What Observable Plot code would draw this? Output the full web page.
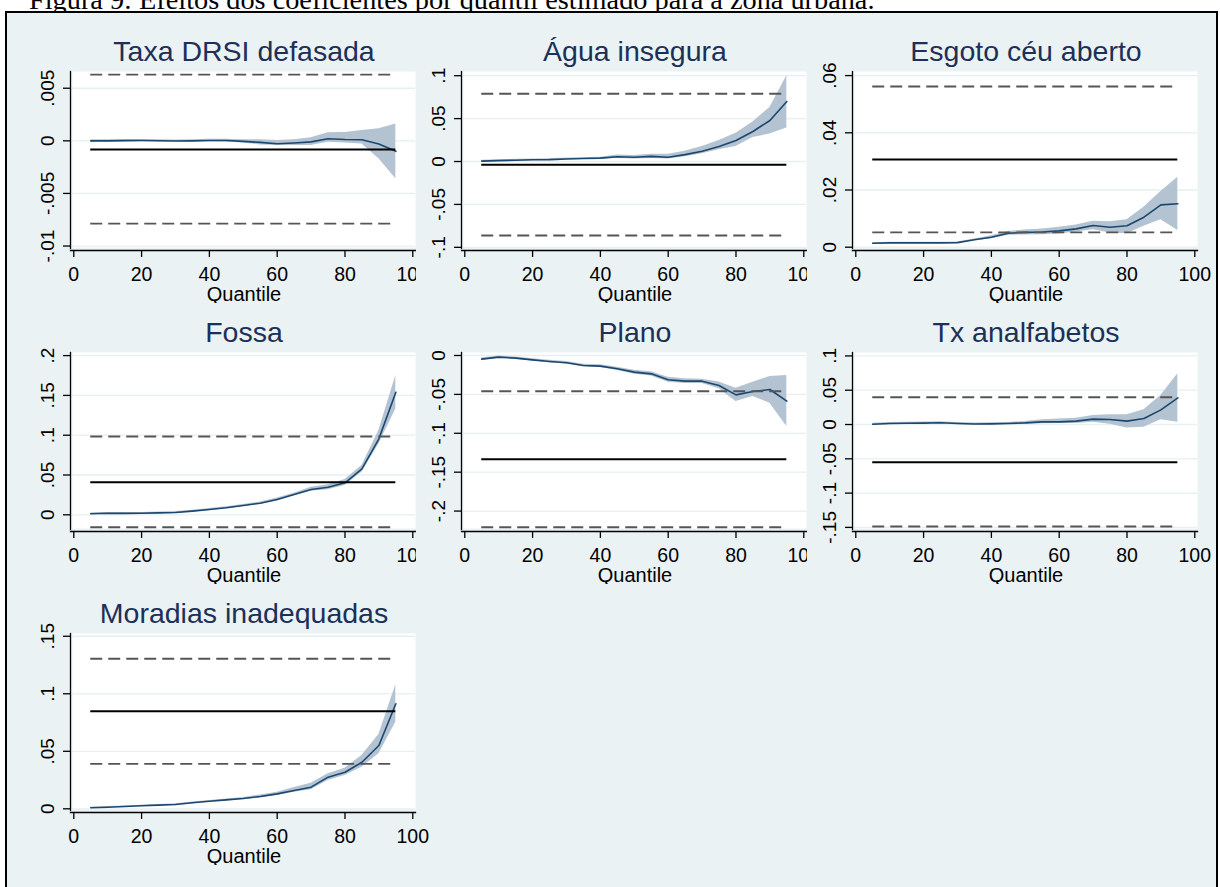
<!DOCTYPE html>
<html>
<head>
<meta charset="utf-8">
<script src="https://cdn.jsdelivr.net/npm/d3@7"></script>
<script src="https://cdn.jsdelivr.net/npm/@observablehq/plot@0.6"></script>
<style>
  html, body { margin: 0; padding: 0; background: #ffffff; }
  body { width: 1220px; height: 887px; overflow: hidden; position: relative; font-family: "Liberation Sans", Arial, sans-serif; }
  #caption { position: absolute; left: 29px; top: -14.5px; font-family: "Liberation Serif", "Times New Roman", serif; font-size: 28.3px; line-height: 28.3px; white-space: nowrap; color: #000; z-index: 0; }
  #frame { position: absolute; left: 5px; top: 11px; width: 1213px; height: 900px; border: 2px solid #000; background: #eaf2f3; box-sizing: border-box; z-index: 1; }
  .panel { position: absolute; z-index: 2; }
</style>
</head>
<body>
<div id="caption">Figura 9: Efeitos dos coeficientes por quantil estimado para a zona urbana.</div>
<div id="frame"></div>
<script>
// ---------------- data ----------------
const quantiles = [5, 10, 15, 20, 25, 30, 35, 40, 45, 50, 55, 60, 65, 70, 75, 80, 85, 90, 95];
const xTicks = [0, 20, 40, 60, 80, 100];
const titles = ["Taxa DRSI defasada", "Água insegura", "Esgoto céu aberto", "Fossa", "Plano", "Tx analfabetos", "Moradias inadequadas"];
const xLabel = "Quantile";

// Taxa DRSI defasada
const taxaB  = [0.0000, 0.0000, 0.00002, 0.00003, 0.00001, -0.00002, 0.0000, 0.00003, 0.00003, -0.00005, -0.00015, -0.00028, -0.0002, -0.0001, 0.0002, 0.00012, 0.0001, -0.0003, -0.001];
const taxaLo = [-0.0001, -0.0001, -0.00008, -0.00007, -0.00009, -0.00012, -0.0001, -0.00008, -0.0001, -0.0002, -0.0004, -0.00045, -0.00045, -0.00045, -0.00013, -0.0002, -0.0003, -0.0017, -0.0036];
const taxaHi = [0.0001, 0.0001, 0.00012, 0.00013, 0.00011, 0.00008, 0.0001, 0.00014, 0.00016, 0.0001, 0.0001, 0.00002, 0.0001, 0.0003, 0.00076, 0.0008, 0.00098, 0.00114, 0.0016];
const taxaOls = [-0.00083, -0.00787, 0.00629];
const taxaYTicks = [-0.01, -0.005, 0, 0.005];
const taxaYLabels = ["-.01", "-.005", "0", ".005"];

// Água insegura
const aguaB  = [0.0005, 0.001, 0.0015, 0.002, 0.0022, 0.003, 0.0035, 0.004, 0.0055, 0.005, 0.006, 0.005, 0.008, 0.012, 0.0175, 0.0245, 0.035, 0.0478, 0.0699];
const aguaLo = [-0.0005, 0.0, 0.0005, 0.001, 0.0012, 0.002, 0.0025, 0.003, 0.0035, 0.003, 0.0035, 0.003, 0.0055, 0.009, 0.0136, 0.0175, 0.028, 0.032, 0.039];
const aguaHi = [0.0015, 0.002, 0.0025, 0.003, 0.0032, 0.004, 0.0045, 0.005, 0.0075, 0.007, 0.0085, 0.0085, 0.012, 0.0175, 0.0245, 0.033, 0.046, 0.063, 0.100];
const aguaOls = [-0.0038, -0.0862, 0.0789];
const aguaYTicks = [-0.1, -0.05, 0, 0.05, 0.1];
const aguaYLabels = ["-.1", "-.05", "0", ".05", ".1"];

// Esgoto céu aberto
const esgotoB  = [0.0014, 0.0015, 0.0015, 0.0015, 0.0015, 0.0016, 0.0026, 0.0035, 0.0049, 0.0052, 0.0053, 0.0057, 0.0064, 0.0076, 0.0070, 0.0075, 0.0105, 0.0148, 0.0152];
const esgotoLo = [0.0012, 0.0013, 0.0013, 0.0013, 0.0013, 0.0014, 0.0023, 0.003, 0.0042, 0.0043, 0.0044, 0.0046, 0.0053, 0.0061, 0.005, 0.0047, 0.0073, 0.0096, 0.0058];
const esgotoHi = [0.0016, 0.0017, 0.0017, 0.0017, 0.0017, 0.0018, 0.0029, 0.004, 0.0055, 0.006, 0.0064, 0.007, 0.0078, 0.0091, 0.0089, 0.0096, 0.014, 0.0195, 0.0245];
const esgotoOls = [0.0307, 0.0052, 0.0562];
const esgotoYTicks = [0, 0.02, 0.04, 0.06];
const esgotoYLabels = ["0", ".02", ".04", ".06"];

// Fossa
const fossaB  = [0.0013, 0.002, 0.0018, 0.002, 0.0024, 0.0029, 0.0046, 0.0067, 0.0088, 0.0117, 0.0146, 0.0192, 0.0255, 0.0318, 0.0347, 0.0402, 0.0578, 0.0955, 0.154];
const fossaLo = [0.0003, 0.001, 0.0008, 0.001, 0.0013, 0.0018, 0.0034, 0.0055, 0.0076, 0.0104, 0.0132, 0.0175, 0.0238, 0.0297, 0.0314, 0.0368, 0.0535, 0.089, 0.133];
const fossaHi = [0.0023, 0.003, 0.0028, 0.003, 0.0035, 0.004, 0.0058, 0.0079, 0.0100, 0.0130, 0.0160, 0.021, 0.0272, 0.0347, 0.0377, 0.0443, 0.062, 0.106, 0.175];
const fossaOls = [0.041, -0.0156, 0.0984];
const fossaYTicks = [0, 0.05, 0.1, 0.15, 0.2];
const fossaYLabels = ["0", ".05", ".1", ".15", ".2"];

// Plano
const planoB  = [-0.0047, -0.0021, -0.0034, -0.0056, -0.0077, -0.0094, -0.0129, -0.0137, -0.0171, -0.0214, -0.0236, -0.0312, -0.033, -0.033, -0.0386, -0.0506, -0.0463, -0.0437, -0.0587];
const planoLo = [-0.0062, -0.0036, -0.0049, -0.0071, -0.0093, -0.011, -0.0146, -0.0155, -0.0192, -0.024, -0.0265, -0.0345, -0.036, -0.036, -0.0428, -0.0591, -0.0527, -0.0613, -0.0913];
const planoHi = [-0.0032, -0.0006, -0.0019, -0.0041, -0.0061, -0.0078, -0.0112, -0.0119, -0.015, -0.019, -0.021, -0.028, -0.030, -0.0304, -0.034, -0.042, -0.0343, -0.027, -0.0257];
const planoOls = [-0.1333, -0.2207, -0.0459];
const planoYTicks = [-0.2, -0.15, -0.1, -0.05, 0];
const planoYLabels = ["-.2", "-.15", "-.1", "-.05", "0"];

// Tx analfabetos
const analfB  = [0.0005, 0.0015, 0.0018, 0.002, 0.0025, 0.0015, 0.0008, 0.001, 0.0015, 0.0024, 0.0039, 0.0039, 0.0049, 0.0078, 0.0073, 0.0049, 0.0087, 0.0214, 0.0389];
const analfLo = [-0.001, 0.0, 0.0003, 0.0005, 0.001, 0.0, -0.0007, -0.0005, 0.0, 0.0005, 0.001, 0.0015, 0.0015, 0.0034, 0.0005, -0.0049, -0.0039, 0.0068, 0.0034];
const analfHi = [0.002, 0.003, 0.0033, 0.0035, 0.004, 0.003, 0.0023, 0.0025, 0.003, 0.0045, 0.007, 0.008, 0.009, 0.013, 0.0141, 0.0141, 0.0214, 0.0423, 0.0739];
const analfOls = [-0.055, -0.1487, 0.0398];
const analfYTicks = [-0.15, -0.1, -0.05, 0, 0.05, 0.1];
const analfYLabels = ["-.15", "-.1", "-.05", "0", ".05", ".1"];

// Moradias inadequadas
const moradB  = [0.0009, 0.0014, 0.002, 0.0026, 0.0032, 0.0037, 0.0052, 0.0066, 0.0078, 0.009, 0.0107, 0.013, 0.0159, 0.0188, 0.0275, 0.0318, 0.0405, 0.055, 0.0913];
const moradLo = [0.0004, 0.0009, 0.0015, 0.002, 0.0026, 0.0031, 0.0045, 0.0059, 0.007, 0.0082, 0.0095, 0.0115, 0.0144, 0.0165, 0.0246, 0.029, 0.0362, 0.0478, 0.0753];
const moradHi = [0.0014, 0.0019, 0.0025, 0.0032, 0.0038, 0.0043, 0.0059, 0.0073, 0.0086, 0.0098, 0.012, 0.0145, 0.0185, 0.0223, 0.0304, 0.0353, 0.0463, 0.0646, 0.1078];
const moradOls = [0.0849, 0.0391, 0.1304];
const moradYTicks = [0, 0.05, 0.1, 0.15];
const moradYLabels = ["0", ".05", ".1", ".15"];

// ---------------- layout / style ----------------
const FONT = '"Liberation Sans", Arial, sans-serif';
const NAVY = "#1a476f";
const BAND = "#b4c3d1";
const GRID = "#e6eff1";
const DASH = "#555555";
const TITLE = "#1c3058";
const colLeft = [23, 414, 805];
const rowTop = [22, 303, 584];

const panels = [
  {title: titles[0], b: taxaB,   lo: taxaLo,   hi: taxaHi,   ols: taxaOls,   ticks: taxaYTicks,   labels: taxaYLabels,   domain: [-0.01014, 0.00659], col: 0, row: 0, w: 393},
  {title: titles[1], b: aguaB,   lo: aguaLo,   hi: aguaHi,   ols: aguaOls,   ticks: aguaYTicks,   labels: aguaYLabels,   domain: [-0.1002, 0.1049],   col: 1, row: 0, w: 393},
  {title: titles[2], b: esgotoB, lo: esgotoLo, hi: esgotoHi, ols: esgotoOls, ticks: esgotoYTicks, labels: esgotoYLabels, domain: [-0.0001, 0.06143],  col: 2, row: 0, w: 411},
  {title: titles[3], b: fossaB,  lo: fossaLo,  hi: fossaHi,  ols: fossaOls,  ticks: fossaYTicks,  labels: fossaYLabels,  domain: [-0.0172, 0.2039],   col: 0, row: 1, w: 393},
  {title: titles[4], b: planoB,  lo: planoLo,  hi: planoHi,  ols: planoOls,  ticks: planoYTicks,  labels: planoYLabels,  domain: [-0.2224, 0.00386],  col: 1, row: 1, w: 393},
  {title: titles[5], b: analfB,  lo: analfLo,  hi: analfHi,  ols: analfOls,  ticks: analfYTicks,  labels: analfYLabels,  domain: [-0.1516, 0.105],    col: 2, row: 1, w: 411},
  {title: titles[6], b: moradB,  lo: moradLo,  hi: moradHi,  ols: moradOls,  ticks: moradYTicks,  labels: moradYLabels,  domain: [-0.0006, 0.1524],   col: 0, row: 2, w: 430}
];

const qmin = d3.min(quantiles), qmax = d3.max(quantiles);

for (const p of panels) {
  const data = quantiles.map((q, i) => ({q, b: p.b[i], lo: p.lo[i], hi: p.hi[i]}));
  const [olsB, olsLo, olsHi] = p.ols;
  const chart = Plot.plot({
    width: p.w,
    height: 281,
    marginLeft: 49,
    marginTop: 49,
    marginBottom: 56,
    marginRight: p.w - 49 - 343,
    style: {background: "transparent", overflow: "hidden", fontFamily: FONT, fontSize: "19px", color: "#000"},
    x: {domain: [-0.38, 100.8], label: null},
    y: {domain: p.domain, label: null},
    marks: [
      Plot.frame({fill: "white", stroke: "none"}),
      Plot.gridY(p.ticks, {stroke: GRID, strokeOpacity: 1, strokeWidth: 1.3}),
      Plot.areaY(data, {x: "q", y1: "lo", y2: "hi", fill: BAND}),
      Plot.lineY(data, {x: "q", y: "b", stroke: NAVY, strokeWidth: 1.6}),
      Plot.ruleY([olsB], {x1: qmin, x2: qmax, stroke: "#000", strokeWidth: 2}),
      Plot.ruleY([olsLo, olsHi], {x1: qmin, x2: qmax, stroke: DASH, strokeWidth: 1.9, strokeDasharray: "12,6"}),
      Plot.frame({anchor: "left", insetLeft: -2, insetBottom: -1, stroke: "#000", strokeWidth: 1.3}),
      Plot.frame({anchor: "bottom", insetBottom: -3, insetLeft: -2, stroke: "#000", strokeWidth: 1.3}),
      Plot.axisY(p.ticks, {anchor: "left", tickSize: 7, dx: -2, stroke: "#000", strokeWidth: 1.3, fill: "none", label: null}),
      Plot.text(p.ticks, {y: (d) => d, text: (d, i) => p.labels[i], frameAnchor: "left", rotate: -90, textAnchor: "middle", lineAnchor: "bottom", dx: -18.5, fontSize: 19, fill: "#000"}),
      Plot.axisX(xTicks, {anchor: "bottom", tickSize: 7, dy: 3, tickPadding: 10, fontSize: 19.5, stroke: "#000", strokeWidth: 1.3, fill: "#000", label: null}),
      Plot.text([p.title], {frameAnchor: "top", lineAnchor: "bottom", dy: -11, fontSize: 28.5, fill: TITLE}),
      Plot.text([xLabel], {frameAnchor: "bottom", lineAnchor: "bottom", dy: 53, fontSize: 20, fill: "#000"})
    ]
  });
  const holder = document.createElement("div");
  holder.className = "panel";
  holder.style.left = colLeft[p.col] + "px";
  holder.style.top = rowTop[p.row] + "px";
  holder.appendChild(chart);
  document.body.appendChild(holder);
}
</script>
</body>
</html>
